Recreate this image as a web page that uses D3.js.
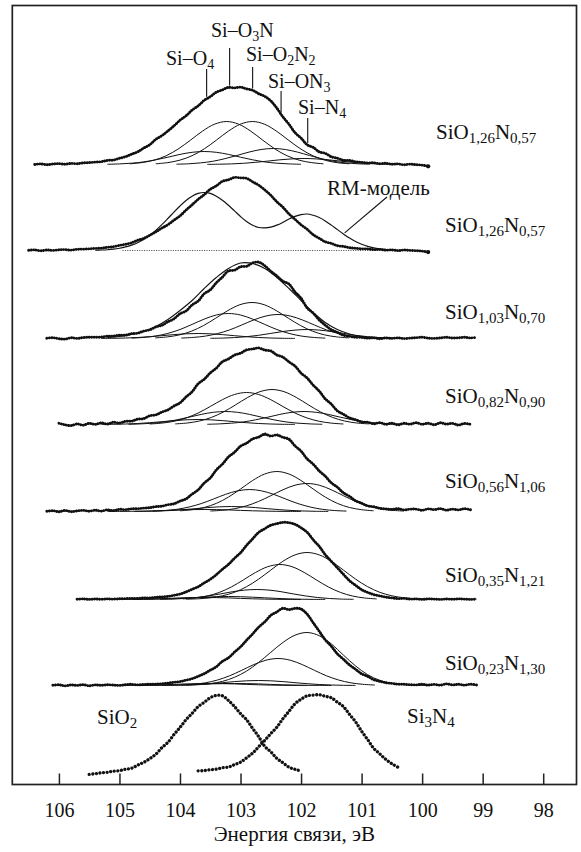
<!DOCTYPE html>
<html>
<head>
<meta charset="utf-8">
<script src="https://cdn.jsdelivr.net/npm/d3@7"></script>
<style>
  html, body { margin: 0; padding: 0; background: #fff; }
  svg { display: block; }
  text { font-family: 'Liberation Serif', 'Times New Roman', Times, serif; }
</style>
</head>
<body>
<svg id="chart" width="581" height="852"></svg>
<script>
// ---------- axis ----------
const xDomain = [106.77, 97.45];             // binding energy, eV (reversed)
const tickValues = [106, 105, 104, 103, 102, 101, 100, 99, 98];

// ---------- measured Si 2p spectra (0.1 eV spacing, high to low energy) ----------
const dataStep = 0.1;
const compStep = 0.2;

const s1 = [0, 0.6, -0.2, 0.5, 0.9, 0.3, 1.1, 0.8, 1.6, 1.9,
  2.4, 2.8, 4.1, 4.4, 6.2, 7.8, 10.3, 12.6, 16.4, 19.7,
  25.2, 28.8, 33.5, 38.6, 44.3, 48.7, 54.4, 58.6, 64.2, 67.8,
  72.3, 74.6, 77.2, 76.6, 77.4, 75.6, 74.3, 70.8, 68.2, 63.6,
  56.4, 47.6, 40.3, 31.8, 26.4, 19.7, 17.2, 12.6, 11.2, 7.7,
  6.3, 4.2, 4.1, 2.7, 2.2, 1.6, 1.7, 0.8, 1.2, 0.3,
  0.6, -0.3, 0.4, -0.2, -0.6, -1.8];
const s2 = [0.2, 0.6, -0.3, 0.5, 0.1, 0.7, 0.9, 0.4, 1.2, 1.4,
  1.7, 2.1, 2.4, 3.2, 3.8, 5.1, 6.2, 7.7, 10.2, 12.1,
  15.3, 18.6, 22.4, 25.8, 30.3, 34.6, 40.4, 45.7, 51.2, 55.8,
  61.3, 64.6, 69.2, 70.7, 73.1, 72.6, 72.2, 68.7, 65.3, 60.6,
  55.2, 48.7, 43.3, 36.6, 31.2, 25.7, 21.3, 15.8, 12.2, 8.7,
  7.1, 4.8, 4.1, 2.8, 2.2, 1.7, 1.6, 0.9, 1.1, 0.4,
  0.6, -0.1, 0.5, 0.1, -0.2, -0.6, -1.6];
const s3 = [0.3, 0.8, -0.2, -0.6, 0.7, 0.1, 0.9, 1.3, 1.2, 1.4,
  2.3, 2.4, 3.4, 3.3, 4.9, 5.3, 7.4, 8.7, 11.6, 13.2,
  16.7, 19.6, 24.8, 27.5, 33.6, 37.4, 44.8, 48.6, 55.7, 61.4,
  67.6, 68.3, 71.8, 72.2, 75.6, 76.4, 72.8, 67.3, 62.6, 57.4,
  54.5, 46.6, 40.3, 30.6, 25.4, 18.6, 13.3, 8.8, 6.2, 3.3,
  2.2, 1.2, 1.1, 0.3, 0.7, -0.2, 0.6, 0.1, 0.7, -0.1,
  0.4, 0.8, 1.3, 0.4, 0.1, 0.6, 1.2, 0.5, 0.7, 1.2,
  0.6, 1.1];
const s4 = [1.2, -0.3, -1.1, 0.6, -0.7, 1.2, 0.1, 1.6, 0.4, 2.3,
  1.4, 3.2, 3.3, 5.4, 5.8, 8.8, 9.6, 12.4, 14.6, 18.5,
  21.6, 27.6, 32.7, 40.8, 45.2, 51.6, 56.4, 62.8, 65.5, 69.4,
  71.3, 74.6, 75.5, 76.6, 74.4, 73.6, 69.5, 67.4, 62.6, 58.5,
  51.4, 46.5, 39.4, 33.5, 25.6, 20.4, 13.6, 10.3, 6.6, 4.8,
  2.6, 2.3, 0.7, 1.8, 0.2, 1.3, -0.4, 1.2, 0.3, 1.8,
  0.2, 1.3, -0.3, 1.7, 0.4, 1.2, -0.6, 1.1, 0.1];
const s5 = [0.2, 0.8, -0.3, 1.1, -0.2, 0.6, 1.2, 0.3, 1.3, 0.4,
  1.7, 0.9, 2.2, 1.8, 2.7, 2.8, 3.4, 3.8, 4.9, 5.3,
  6.8, 7.7, 10.4, 12.6, 17.4, 21.6, 28.5, 33.4, 41.6, 47.3,
  54.6, 59.2, 65.4, 68.3, 72.6, 74.4, 77.5, 75.4, 76.6, 74.2,
  72.4, 65.6, 60.4, 52.6, 47.4, 40.6, 35.3, 28.6, 24.3, 18.6,
  15.2, 10.7, 8.3, 5.6, 4.8, 3.2, 2.6, 2.1, 2.8, 1.6,
  2.3, 2.4, 1.2, 2.6, 1.8, 2.9, 1.3, 2.4, 1.6, 2.8,
  1.7];
const s6 = [0.2, 0.6, 0.1, 0.5, 0.2, 0.6, 0.4, 0.7, 0.9, 1.1,
  1.0, 1.6, 1.5, 2.1, 2.6, 3.1, 4.2, 5.4, 7.6, 10.2,
  12.8, 16.6, 20.2, 24.8, 30.2, 35.1, 41.2, 46.8, 54.2, 60.7,
  67.2, 70.8, 74.3, 75.8, 77.2, 76.8, 75.2, 71.7, 67.3, 59.8,
  53.2, 44.8, 38.2, 31.7, 25.2, 18.8, 14.2, 9.8, 7.1, 4.9,
  3.6, 2.4, 1.6, 0.9, 1.1, 0.4, 0.6, 0.1, 0.6, 0.4,
  0.1, 0.5, 0.2, 0.6, 0.4, 0.1, 0.5];
const s7 = [0.2, 0.7, -0.4, 0.6, 0.1, 0.8, -0.3, 0.6, 0.2, 0.7,
  0.4, 0.1, 0.8, 1.2, 0.6, 1.1, 1.3, 1.4, 1.8, 2.4,
  3.2, 3.9, 5.3, 6.8, 9.2, 11.8, 15.3, 18.7, 24.2, 27.6,
  33.4, 38.6, 45.3, 51.6, 58.4, 63.6, 70.2, 73.6, 77.3, 75.8,
  77.2, 76.6, 71.4, 62.8, 54.3, 45.6, 39.2, 31.6, 26.3, 20.6,
  16.2, 11.7, 9.2, 5.8, 4.1, 2.8, 2.1, 1.3, 1.2, 0.8,
  0.6, 1.2, 0.4, 1.1, 0.3, 1.6, 0.6, 1.2, 0.4, 1.3,
  0.5];
const sio2 = [0.6, 1.3, 2.2, 2.7, 3.8, 4.3, 5.8, 6.7, 9.8, 12.6,
  16.4, 20.7, 27.3, 32.6, 40.4, 47.5, 55.3, 61.6, 68.4, 72.6,
  77.3, 79.6, 79.2, 74.6, 68.5, 61.4, 55.3, 46.6, 38.4, 28.7,
  23.2, 16.6, 12.3, 7.8, 5.7, 3.9];
const si3n4 = [4.2, 4.4, 5.3, 5.8, 7.2, 7.9, 10.3, 12.8, 17.2, 21.8,
  28.3, 34.6, 41.4, 47.8, 56.3, 63.6, 71.2, 75.8, 79.2, 79.8,
  80.3, 78.7, 77.2, 72.8, 68.3, 60.6, 53.2, 43.8, 35.4, 26.7,
  21.2, 15.6, 11.3, 7.8];

// first (highest) energy of each trace, eV
const spectraStart = [106.4, 106.5, 106.2, 106.0, 106.2, 105.7, 106.1];
const refStart = [105.5, 103.7];            // SiO2, Si3N4
// stacking offset of each trace, intensity units
const spectraOffset = [620, 534, 446, 360, 273, 185, 99];
const refOffset = [9.5, 9.5];

// random-mixture model curve for SiO1,26N0,57 (0.1 eV spacing)
const rmStart = 105.4;
const rmModel = [0.3, 0.5, 0.8, 1.4, 2.3, 3.6, 5.4, 7.8, 11.1, 15.2,
  20.1, 25.8, 32.0, 38.4, 44.5, 50.0, 54.3, 57.1, 58.0, 57.1,
  54.3, 50.3, 45.2, 39.6, 34.0, 29.0, 25.2, 23.0, 22.6, 23.4,
  25.4, 28.2, 31.4, 34.1, 35.9, 36.5, 35.2, 33.0, 29.6, 25.4,
  20.9, 16.5, 12.4, 9.0, 6.2, 4.1, 2.6, 1.6, 0.9, 0.5,
  0.3, 0.1, 0];

// total fit envelope for SiO1,03N0,70 (0.2 eV spacing)
const s3FitStart = 105.2;
const s3Fit = [1, 2, 4, 7, 12, 19, 28, 38, 50, 61, 70, 75.5, 75, 70, 61, 50, 38, 26, 16, 9, 4.5, 2, 1, 0.5, 0];

// fitted Si(O,N) tetrahedra components (0.2 eV spacing): Si–O4, Si–O3N, Si–O2N2, Si–ON3, Si–N4
const compsS1 = [
  { from: 105.2,  y: [0.2, 0.6, 1.3, 2.6, 4.7, 7.3, 10.1, 12.2, 13, 12.2, 10.1, 7.3, 4.7, 2.6, 1.3, 0.6, 0.2] },
  { from: 104.83, y: [0.7, 1.9, 4.3, 8.7, 15.5, 24.2, 33.3, 40.3, 43, 40.3, 33.3, 24.2, 15.5, 8.7, 4.3, 1.9, 0.7] },
  { from: 104.4,  y: [0.7, 1.9, 4.4, 8.8, 15.6, 24.3, 33.4, 40.4, 43, 40.2, 33.1, 24.0, 15.3, 8.6, 4.2, 1.8, 0.7] },
  { from: 104.06, y: [0.3, 0.7, 1.6, 3.2, 5.8, 9.0, 12.4, 15.0, 16, 15.0, 12.4, 9.0, 5.8, 3.2, 1.6, 0.7, 0.3] },
  { from: 103.55, y: [0.1, 0.3, 0.6, 1.2, 2.2, 3.4, 4.7, 5.6, 6, 5.6, 4.7, 3.4, 2.2, 1.2, 0.6, 0.3, 0.1] }
];
const compsS3 = [
  { from: 105.3,  y: [0.1, 0.2, 0.5, 1.0, 1.8, 2.8, 3.9, 4.7, 5, 4.7, 3.9, 2.8, 1.8, 1.0, 0.5, 0.2, 0.1] },
  { from: 104.8,  y: [0.4, 1.1, 2.5, 5.1, 9.0, 14.1, 19.4, 23.5, 25, 23.5, 19.4, 14.1, 9.0, 5.1, 2.5, 1.1, 0.4] },
  { from: 104.41, y: [0.6, 1.6, 3.6, 7.3, 13.0, 20.3, 27.9, 33.8, 36, 33.8, 27.9, 20.3, 13.0, 7.3, 3.6, 1.6, 0.6] },
  { from: 103.98, y: [0.4, 1.1, 2.4, 4.9, 8.6, 13.5, 18.6, 22.5, 24, 22.5, 18.6, 13.5, 8.6, 4.9, 2.4, 1.1, 0.4] },
  { from: 103.5,  y: [0.2, 0.4, 0.9, 1.8, 3.2, 5.1, 7.0, 8.4, 9, 8.4, 7.0, 5.1, 3.2, 1.8, 0.9, 0.4, 0.2] }
];
const compsS4 = [
  { from: 105.3,  y: [0.1, 0.2, 0.5, 1.0, 1.8, 2.8, 3.9, 4.7, 5, 4.7, 3.9, 2.8, 1.8, 1.0, 0.5, 0.2, 0.1] },
  { from: 104.85, y: [0.2, 0.6, 1.3, 2.6, 4.7, 7.3, 10.1, 12.2, 13, 12.2, 10.1, 7.3, 4.7, 2.6, 1.3, 0.6, 0.2] },
  { from: 104.5,  y: [0.5, 1.4, 3.2, 6.5, 11.5, 18.0, 24.8, 30.0, 32, 30.0, 24.8, 18.0, 11.5, 6.5, 3.2, 1.4, 0.5] },
  { from: 104.08, y: [0.6, 1.5, 3.5, 7.1, 12.6, 19.7, 27.1, 32.8, 35, 32.8, 27.1, 19.7, 12.6, 7.1, 3.5, 1.5, 0.6] },
  { from: 103.55, y: [0.2, 0.6, 1.3, 2.6, 4.7, 7.3, 10.1, 12.2, 13, 12.2, 10.1, 7.3, 4.7, 2.6, 1.3, 0.6, 0.2] }
];
const compsS5 = [
  { from: 105.2,  y: [0, 0.1, 0.2, 0.4, 0.7, 1.1, 1.6, 1.9, 2, 1.9, 1.6, 1.1, 0.7, 0.4, 0.2, 0.1, 0] },
  { from: 104.75, y: [0.1, 0.2, 0.5, 1.0, 1.8, 2.8, 3.9, 4.7, 5, 4.7, 3.9, 2.8, 1.8, 1.0, 0.5, 0.2, 0.1] },
  { from: 104.45, y: [0.4, 1.0, 2.2, 4.5, 7.9, 12.4, 17.1, 20.6, 22, 20.6, 17.1, 12.4, 7.9, 4.5, 2.2, 1.0, 0.4] },
  { from: 104.0,  y: [0.7, 1.8, 4.0, 8.1, 14.4, 22.5, 31.0, 37.5, 40, 37.5, 31.0, 22.5, 14.4, 8.1, 4.0, 1.8, 0.7] },
  { from: 103.5,  y: [0.5, 1.2, 2.8, 5.7, 10.1, 15.8, 21.7, 26.3, 28, 26.3, 21.7, 15.8, 10.1, 5.7, 2.8, 1.2, 0.5] }
];
const compsS6 = [
  { from: 105.2,  y: [0, 0.1, 0.2, 0.4, 0.7, 1.1, 1.6, 1.9, 2, 1.9, 1.6, 1.1, 0.7, 0.4, 0.2, 0.1, 0] },
  { from: 104.8,  y: [0.1, 0.1, 0.3, 0.6, 1.1, 1.7, 2.3, 2.8, 3, 2.8, 2.3, 1.7, 1.1, 0.6, 0.3, 0.1, 0.1] },
  { from: 104.33, y: [0.2, 0.4, 1.0, 2.0, 3.6, 5.6, 7.8, 9.4, 10, 9.4, 7.8, 5.6, 3.6, 2.0, 1.0, 0.4, 0.2] },
  { from: 103.95, y: [0.6, 1.5, 3.5, 7.1, 12.6, 19.7, 27.1, 32.8, 35, 32.8, 27.1, 19.7, 12.6, 7.1, 3.5, 1.5, 0.6] },
  { from: 103.9,  y: [0.3, 0.7, 1.7, 3.7, 7.2, 12.8, 20.4, 29.4, 38.2, 44.6, 47, 44.6, 38.2, 29.4, 20.4, 12.8, 7.2, 3.7, 1.7, 0.7, 0.3] }
];
const compsS7 = [
  { from: 105.1,  y: [0, 0.1, 0.2, 0.4, 0.7, 1.1, 1.6, 1.9, 2, 1.9, 1.6, 1.1, 0.7, 0.4, 0.2, 0.1, 0] },
  { from: 104.7,  y: [0, 0.1, 0.2, 0.4, 0.7, 1.1, 1.6, 1.9, 2, 1.9, 1.6, 1.1, 0.7, 0.4, 0.2, 0.1, 0] },
  { from: 104.3,  y: [0.1, 0.2, 0.5, 1.0, 1.8, 2.8, 3.9, 4.7, 5, 4.7, 3.9, 2.8, 1.8, 1.0, 0.5, 0.2, 0.1] },
  { from: 103.98, y: [0.5, 1.2, 2.7, 5.5, 9.7, 15.2, 20.9, 25.3, 27, 25.3, 20.9, 15.2, 9.7, 5.5, 2.7, 1.2, 0.5] },
  { from: 103.9,  y: [0.3, 0.8, 1.9, 4.1, 8.2, 14.4, 23.1, 33.2, 43.0, 50.3, 53, 49.8, 41.6, 30.4, 19.6, 10.8, 5.2, 2.1, 0.8, 0.3, 0.1] }
];
const componentSets = [compsS1, null, compsS3, compsS4, compsS5, compsS6, compsS7];

// ---------- text ----------
const sampleLabels = [
  ["SiO", "1,26", "N", "0,57"],
  ["SiO", "1,26", "N", "0,57"],
  ["SiO", "1,03", "N", "0,70"],
  ["SiO", "0,82", "N", "0,90"],
  ["SiO", "0,56", "N", "1,06"],
  ["SiO", "0,35", "N", "1,21"],
  ["SiO", "0,23", "N", "1,30"]
];
const bondLabels = [["Si–O", "4"], ["Si–O", "3", "N"], ["Si–O", "2", "N", "2"], ["Si–ON", "3"], ["Si–N", "4"]];
const bondEnergies = [103.56, 103.18, 102.8, 102.33, 101.89];
const refLabels = [["SiO", "2"], ["Si", "3", "N", "4"]];
const modelLabel = "RM-модель";
const axisTitle = "Энергия связи, эВ";

// ---------- layout ----------
const W = 581, H = 852;
const plot = { left: 12.3, right: 576.5, top: 5.5, bottom: 784.5 };
const FONT = "'Liberation Serif', 'Times New Roman', Times, serif";
const INK = "#111";
const sampleLabelPos = [[436, 139], [445, 232], [445, 319], [445, 403], [445, 488], [445, 582], [445, 670]];
const bondLabelPos = [[166, 65, 69], [211, 37, 48], [246, 61, 67], [268, 88, 91], [298, 114, 118]];
const refLabelPos = [[97, 724], [407, 723]];
const modelLabelPos = [327, 195];
const modelLeader = { x: 387, y: 197, toE: 101.28 };

const svg = d3.select("#chart");
svg.append("rect").attr("width", W).attr("height", H).attr("fill", "#fff");

const x = d3.scaleLinear().domain(xDomain).range([plot.left, plot.right]);
const y = d3.scaleLinear().domain([0, plot.bottom - plot.top]).range([plot.bottom, plot.top]);

const toPoints = (from, dx, vals) => vals.map((v, i) => [from - i * dx, v]);
const lineAt = (off, curve) => d3.line()
  .x(d => x(d[0]))
  .y(d => y(off + d[1]))
  .curve(curve || d3.curveCatmullRom.alpha(0.5));
function valueAt(from, dx, vals, E) {
  const t = (from - E) / dx, i = Math.max(0, Math.min(vals.length - 2, Math.floor(t))), f = t - i;
  return vals[i] * (1 - f) + vals[i + 1] * f;
}

function richText(g, parts, px, py, size, subSize, shift) {
  const t = g.append("text").attr("x", px).attr("y", py)
    .attr("font-family", FONT).attr("font-size", size).attr("fill", INK);
  parts.forEach((p, i) => {
    const sub = i % 2 === 1;
    t.append("tspan").text(p)
      .attr("font-size", sub ? subSize : size)
      .attr("dy", i === 0 ? 0 : (sub ? shift : -shift));
  });
  return t;
}

const gPlot = svg.append("g");
const allSpectra = [s1, s2, s3, s4, s5, s6, s7];

function drawDots(g, pts, off, width, gap) {
  g.append("path").datum(pts)
    .attr("d", lineAt(off))
    .attr("fill", "none").attr("stroke", INK)
    .attr("stroke-width", width)
    .attr("stroke-linecap", "round")
    .attr("stroke-dasharray", `0.01 ${gap}`);
}
function drawThin(g, pts, off, width, curve) {
  g.append("path").datum(pts)
    .attr("d", lineAt(off, curve))
    .attr("fill", "none").attr("stroke", INK)
    .attr("stroke-width", width)
    .attr("stroke-linejoin", "round");
}

allSpectra.forEach((vals, k) => {
  const off = spectraOffset[k];
  const g = gPlot.append("g");
  const pts = toPoints(spectraStart[k], dataStep, vals);
  const comps = componentSets[k];
  if (comps) {
    comps.forEach(c => drawThin(g, toPoints(c.from, compStep, c.y), off, 1));
    if (k === 2) drawThin(g, toPoints(s3FitStart, compStep, s3Fit), off, 1.1);
    else drawThin(g, pts, off, 1.1, d3.curveBasis);
  }
  if (k === 1) {
    // zero line of the model and the model curve
    const mPts = toPoints(rmStart, dataStep, rmModel);
    g.append("line")
      .attr("x1", x(104.95)).attr("x2", x(100.15))
      .attr("y1", y(off)).attr("y2", y(off))
      .attr("stroke", "#444").attr("stroke-width", 1).attr("stroke-dasharray", "1 1.4");
    drawThin(g, mPts, off, 1.15);
  }
  drawDots(g, pts, off, 2.9, 2.5);
  if (k < 2) {
    const last = pts[pts.length - 1];
    g.append("circle").attr("cx", x(last[0])).attr("cy", y(off + last[1])).attr("r", 2.1).attr("fill", INK);
  }
});

// reference spectra
[sio2, si3n4].forEach((vals, k) => {
  drawDots(gPlot, toPoints(refStart[k], dataStep, vals), refOffset[k], 3.3, 3.6);
});

// ---------- frame and axis ----------
svg.append("rect")
  .attr("x", plot.left).attr("y", plot.top)
  .attr("width", plot.right - plot.left).attr("height", plot.bottom - plot.top)
  .attr("fill", "none").attr("stroke", "#222").attr("stroke-width", 1.7);

const axis = d3.axisBottom(x).tickValues(tickValues).tickFormat(d3.format("d"))
  .tickSize(-11).tickSizeOuter(0).tickPadding(18);
const gAxis = svg.append("g").attr("transform", `translate(0,${plot.bottom})`).call(axis);
gAxis.select(".domain").remove();
gAxis.selectAll(".tick line").attr("stroke", "#222").attr("stroke-width", 1.5);
gAxis.selectAll(".tick text").attr("font-family", FONT).attr("font-size", 20).attr("fill", INK);

svg.append("text")
  .attr("x", (plot.left + plot.right) / 2).attr("y", 841)
  .attr("text-anchor", "middle")
  .attr("font-family", FONT).attr("font-size", 21).attr("fill", INK)
  .text(axisTitle);

// ---------- annotations ----------
const gText = svg.append("g");
sampleLabels.forEach((parts, k) => {
  richText(gText, parts, sampleLabelPos[k][0], sampleLabelPos[k][1], 21, 15, 4);
});
refLabels.forEach((parts, k) => {
  richText(gText, parts, refLabelPos[k][0], refLabelPos[k][1], 21, 15, 4);
});

bondLabels.forEach((parts, k) => {
  const [tx, ty, top] = bondLabelPos[k];
  richText(gText, parts, tx, ty, 20, 14, 3.5);
  const E = bondEnergies[k];
  const yCurve = y(spectraOffset[0] + valueAt(spectraStart[0], dataStep, s1, E));
  gText.append("line")
    .attr("x1", x(E)).attr("x2", x(E))
    .attr("y1", top).attr("y2", yCurve - 2)
    .attr("stroke", INK).attr("stroke-width", 1.1);
});

gText.append("text")
  .attr("x", modelLabelPos[0]).attr("y", modelLabelPos[1])
  .attr("font-family", FONT).attr("font-size", 21).attr("fill", INK)
  .text(modelLabel);
gText.append("line")
  .attr("x1", modelLeader.x).attr("y1", modelLeader.y)
  .attr("x2", x(modelLeader.toE))
  .attr("y2", y(spectraOffset[1] + valueAt(rmStart, dataStep, rmModel, modelLeader.toE)) - 2)
  .attr("stroke", INK).attr("stroke-width", 1.1);
</script>
</body>
</html>
